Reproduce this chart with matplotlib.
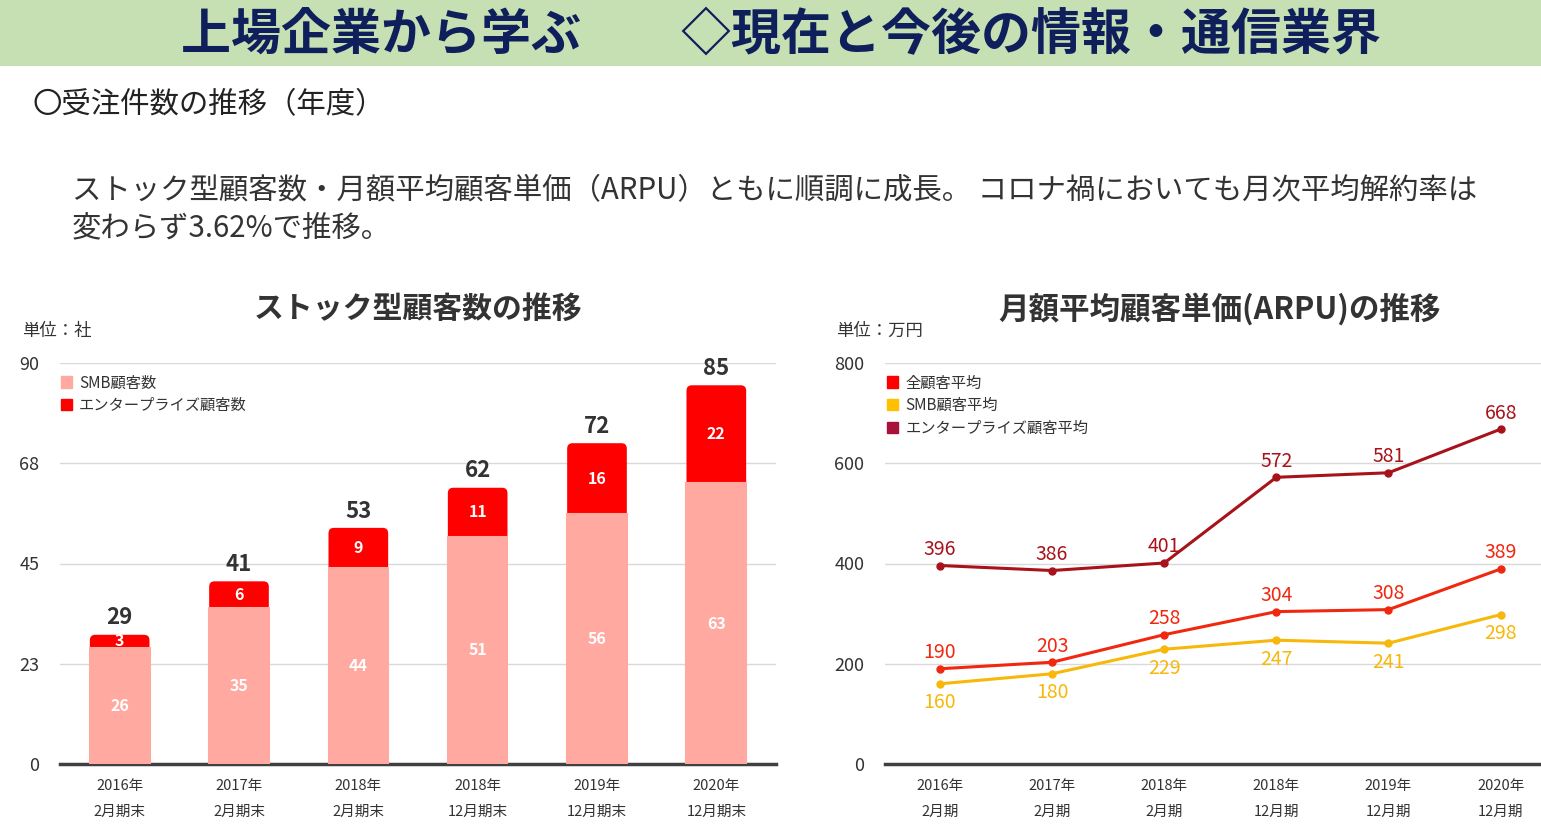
import matplotlib
matplotlib.use("Agg")
import matplotlib.pyplot as plt
from matplotlib.patches import Rectangle, Patch, FancyBboxPatch
import numpy as np

plt.rcParams['font.family'] = ['Noto Sans CJK JP', 'DejaVu Sans']

# データ
periods_bar = ['2016年\n2月期末', '2017年\n2月期末', '2018年\n2月期末', '2018年\n12月期末', '2019年\n12月期末', '2020年\n12月期末']
smb_count = [26, 35, 44, 51, 56, 63]
ent_count = [3, 6, 9, 11, 16, 22]
total_count = [29, 41, 53, 62, 72, 85]
bar_yticks = [0, 22.5, 45, 67.5, 90]
bar_yticklabels = ['0', '23', '45', '68', '90']

periods_line = ['2016年\n2月期', '2017年\n2月期', '2018年\n2月期', '2018年\n12月期', '2019年\n12月期', '2020年\n12月期']
arpu_all = [190, 203, 258, 304, 308, 389]
arpu_smb = [160, 180, 229, 247, 241, 298]
arpu_ent = [396, 386, 401, 572, 581, 668]
line_yticks = [0, 200, 400, 600, 800]

c_smb = '#FFA9A0'
c_ent = '#FF0000'
c_all = '#F0280F'
c_smbline = '#F7B80A'
c_entline = '#A8121A'
c_text = '#333333'
c_grid = '#D9D9D9'

W, H = 1541, 825
fig = plt.figure(figsize=(W / 100, H / 100), dpi=100)

# 上の帯
fig.patches.append(Rectangle((0, 1 - 66 / H), 1, 66 / H, transform=fig.transFigure,
                             facecolor='#C6E0B4', edgecolor='none', zorder=0))
fig.text(781 / W, 1 - 35 / H, '上場企業から学ぶ　　◇現在と今後の情報・通信業界',
         ha='center', va='center', fontsize=36, fontweight='bold', color='#0E1F5B')

fig.text(33 / W, 1 - 105 / H, '〇受注件数の推移（年度）', ha='left', va='center',
         fontsize=21.2, color='#222222')
fig.text(72 / W, 1 - 191 / H, 'ストック型顧客数・月額平均顧客単価（ARPU）ともに順調に成長。 コロナ禍においても月次平均解約率は',
         ha='left', va='center', fontsize=21.2, color=c_text)
fig.text(72 / W, 1 - 228 / H, '変わらず3.62%で推移。',
         ha='left', va='center', fontsize=21.2, color=c_text)


def style_axes(ax):
    for s in ['top', 'right', 'left']:
        ax.spines[s].set_visible(False)
    ax.spines['bottom'].set_color('#404040')
    ax.spines['bottom'].set_linewidth(2.5)
    ax.yaxis.grid(True, color=c_grid, linewidth=1)
    ax.set_axisbelow(True)
    ax.tick_params(axis='both', length=0)
    ax.tick_params(axis='y', labelsize=13, labelcolor=c_text, pad=15)
    ax.tick_params(axis='x', labelsize=10.5, labelcolor=c_text, pad=11)
    for lab in ax.get_xticklabels():
        lab.set_linespacing(2.05)


# 左: ストック型顧客数
ax1 = fig.add_axes([60 / W, 1 - 764 / H, 716 / W, 401 / H])
x = np.arange(len(periods_bar))
b1 = ax1.bar(x, smb_count, width=0.5, color=c_smb, edgecolor=c_smb, linewidth=1.5, zorder=3)
b2 = ax1.bar(x, ent_count, width=0.5, bottom=smb_count, color=c_ent, zorder=2)
for r in b2:
    # 上の角を丸くする（下はSMBの棒で隠れる）
    r.set_visible(False)
    p = FancyBboxPatch((r.get_x(), 0), r.get_width(), r.get_y() + r.get_height(),
                       boxstyle='round,pad=0,rounding_size=0.045', mutation_aspect=27,
                       facecolor=c_ent, edgecolor='none', zorder=2)
    ax1.add_patch(p)
ax1.set_xlim(-0.5, 5.5)
ax1.set_ylim(0, 90)
ax1.set_yticks(bar_yticks)
ax1.set_yticklabels(bar_yticklabels)
ax1.set_xticks(x)
ax1.set_xticklabels(periods_bar)
style_axes(ax1)
for i in range(len(x)):
    ax1.text(x[i], smb_count[i] / 2, str(smb_count[i]), ha='center', va='center',
             color='white', fontsize=11.5, fontweight='bold', zorder=4)
    ax1.text(x[i], smb_count[i] + ent_count[i] / 2, str(ent_count[i]), ha='center', va='center',
             color='white', fontsize=11.5, fontweight='bold', zorder=4)
    ax1.text(x[i], total_count[i] + 1.2, str(total_count[i]), ha='center', va='bottom',
             color=c_text, fontsize=16, fontweight='bold', zorder=4)
ax1.legend(handles=[Patch(color=c_smb, label='SMB顧客数'), Patch(color=c_ent, label='エンタープライズ顧客数')],
           loc='upper left', bbox_to_anchor=(-0.018, 1.006), frameon=False, fontsize=11,
           handlelength=0.75, handleheight=0.75, handletextpad=0.45, labelspacing=0.38,
           labelcolor=c_text)
fig.text(418 / W, 1 - 309 / H, 'ストック型顧客数の推移', ha='center', va='center',
         fontsize=21.5, fontweight='bold', color=c_text)
fig.text(22 / W, 1 - 331 / H, '単位：社', ha='left', va='center', fontsize=12.5, color=c_text)

# 右: ARPU
ax2 = fig.add_axes([885 / W, 1 - 764 / H, 656 / W, 401 / H])
xl = np.arange(len(periods_line))
ax2.plot(xl, arpu_ent, color=c_entline, lw=2.2, marker='o', ms=5, zorder=3)
ax2.plot(xl, arpu_all, color=c_all, lw=2.2, marker='o', ms=5, zorder=3)
ax2.plot(xl, arpu_smb, color=c_smbline, lw=2.2, marker='o', ms=5, zorder=3)
for i in range(len(xl)):
    ax2.annotate(str(arpu_ent[i]), (xl[i], arpu_ent[i]), xytext=(0, 4), textcoords='offset points',
                 ha='center', va='bottom', color=c_entline, fontsize=14)
    ax2.annotate(str(arpu_all[i]), (xl[i], arpu_all[i]), xytext=(0, 4), textcoords='offset points',
                 ha='center', va='bottom', color=c_all, fontsize=14)
    ax2.annotate(str(arpu_smb[i]), (xl[i], arpu_smb[i]), xytext=(0, -6), textcoords='offset points',
                 ha='center', va='top', color=c_smbline, fontsize=14)
ax2.set_xlim(-0.49, 5.36)
ax2.set_ylim(0, 800)
ax2.set_yticks(line_yticks)
ax2.set_xticks(xl)
ax2.set_xticklabels(periods_line)
style_axes(ax2)
ax2.legend(handles=[Patch(color='#FF0000', label='全顧客平均'), Patch(color='#FFC000', label='SMB顧客平均'),
                    Patch(color='#A9133A', label='エンタープライズ顧客平均')],
           loc='upper left', bbox_to_anchor=(-0.018, 1.006), frameon=False, fontsize=11,
           handlelength=0.75, handleheight=0.75, handletextpad=0.45, labelspacing=0.38,
           labelcolor=c_text)
fig.text(1220 / W, 1 - 309 / H, '月額平均顧客単価(ARPU)の推移', ha='center', va='center',
         fontsize=22, fontweight='bold', color=c_text)
fig.text(836 / W, 1 - 331 / H, '単位：万円', ha='left', va='center', fontsize=12.5, color=c_text)

fig.savefig('out.png', dpi=100)
